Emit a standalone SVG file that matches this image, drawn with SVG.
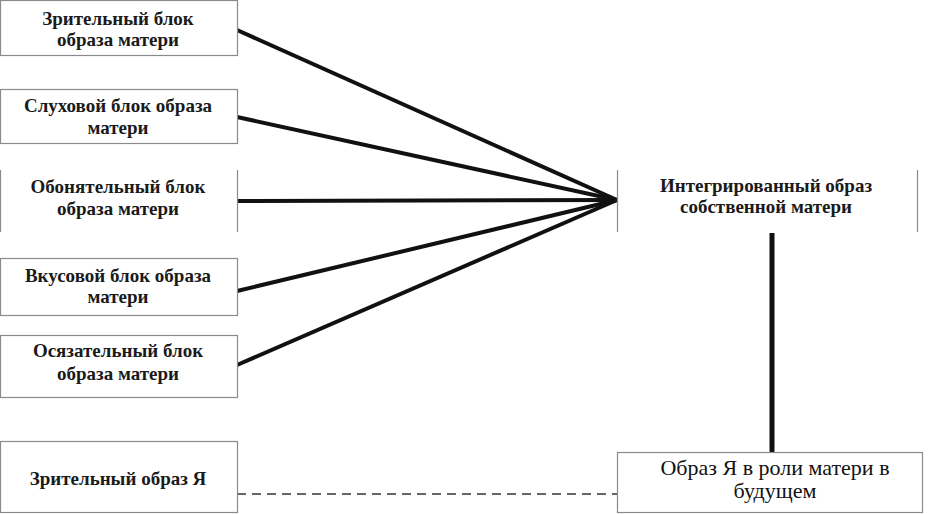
<svg xmlns="http://www.w3.org/2000/svg" width="928" height="514" viewBox="0 0 928 514">
<style>
.box{fill:#fff;stroke:#8a8a8a;stroke-width:1.2}
.side{stroke:#8a8a8a;stroke-width:1.2}
text{font-family:'Liberation Serif','Times New Roman','DejaVu Serif',serif;text-anchor:middle}
.t{font-size:19px;font-weight:bold;fill:#1a1a1a}
.tb{font-size:22px;fill:#111}
.c{stroke:#111;stroke-width:4;fill:none}
</style>
<rect width="928" height="514" fill="#fff"/>
<g id="connectors">
<line class="c" x1="237" y1="30" x2="617" y2="200"/>
<line class="c" x1="237" y1="117" x2="617" y2="200"/>
<line class="c" x1="237" y1="201" x2="617" y2="200"/>
<line class="c" x1="237" y1="291" x2="617" y2="200"/>
<line class="c" x1="237" y1="365" x2="617" y2="200"/>
<line class="c" x1="772" y1="233" x2="772" y2="455" style="stroke-width:5"/>
<line x1="237" y1="494" x2="617" y2="494" stroke="#666" stroke-width="2" stroke-dasharray="9,6"/>
</g>
<g id="n1"><rect class="box" x="0.5" y="0.5" width="237" height="55"/><text class="t" x="118" y="25">Зрительный блок</text><text class="t" x="118" y="46">образа матери</text></g>
<g id="n2"><rect class="box" x="0.5" y="89.5" width="237" height="54"/><text class="t" x="118" y="112">Слуховой блок образа</text><text class="t" x="118" y="134">матери</text></g>
<g id="n3"><line class="side" x1="0.5" y1="170" x2="0.5" y2="232"/><line class="side" x1="237.5" y1="170" x2="237.5" y2="232"/><text class="t" x="118" y="193">Обонятельный блок</text><text class="t" x="118" y="215">образа матери</text></g>
<g id="n4"><rect class="box" x="0.5" y="258.5" width="237" height="57"/><text class="t" x="118" y="282">Вкусовой блок образа</text><text class="t" x="118" y="303">матери</text></g>
<g id="n5"><rect class="box" x="0.5" y="335.5" width="237" height="62"/><text class="t" x="118" y="357">Осязательный блок</text><text class="t" x="118" y="380">образа матери</text></g>
<g id="n6"><rect class="box" x="0.5" y="441.5" width="237" height="71"/><text class="t" x="118" y="485">Зрительный образ Я</text></g>
<g id="n7"><line class="side" x1="617.5" y1="170" x2="617.5" y2="232"/><line class="side" x1="917.5" y1="170" x2="917.5" y2="232"/><text class="t" x="766" y="192">Интегрированный образ</text><text class="t" x="766" y="213">собственной матери</text></g>
<g id="n8"><rect class="box" x="617.5" y="452.5" width="305" height="60"/><text class="tb" x="775" y="475">Образ Я в роли матери в</text><text class="tb" x="775" y="498">будущем</text></g>
</svg>
